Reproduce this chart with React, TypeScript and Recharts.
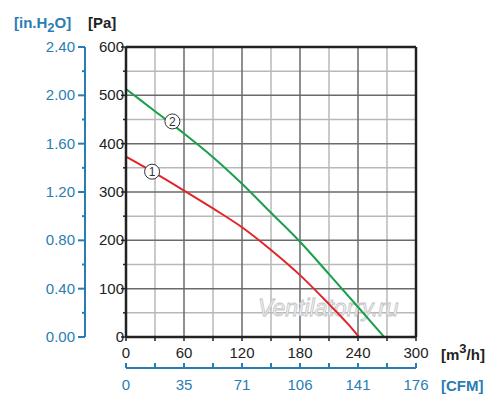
import React from "react"
import {
  LineChart,
  Line,
  XAxis,
  YAxis,
  CartesianGrid,
  ReferenceDot,
  ReferenceLine,
} from "recharts"

// kurva 1 (merah) dan 2 (hijau): debit [m3/h] -> tekanan [Pa]
const debitMerah = [0, 30, 60, 90, 120, 150, 180, 210, 230, 241]
const tekananMerah = [373, 339, 303, 266, 227, 180, 128, 68, 26, 0]
const debitHijau = [0, 30, 60, 90, 120, 150, 180, 210, 240, 267]
const tekananHijau = [513, 467, 421, 372, 317, 257, 197, 130, 62, 0]

const tickDebit = [0, 30, 60, 90, 120, 150, 180, 210, 240, 270, 300]
const labelDebit = [0, 60, 120, 180, 240, 300]
const labelCfm = ["0", "35", "71", "106", "141", "176"]
const tickPa = [0, 50, 100, 150, 200, 250, 300, 350, 400, 450, 500, 550, 600]
const tickInH2O = [0, 0.2, 0.4, 0.6, 0.8, 1.0, 1.2, 1.4, 1.6, 1.8, 2.0, 2.2, 2.4]

const BIRU = "#2a7db3"
const HITAM = "#222"
const FONT = "'Liberation Sans', Arial, sans-serif"

// id sumbu: yang urut abjad pertama diletakkan paling dekat ke plot
const X_DEBIT = "a_debit"
const X_CFM = "b_cfm"
const Y_PA = "a_pa"
const Y_IN = "b_in"

const dataMerah = debitMerah.map((d, i) => ({ debit: d, pa: tekananMerah[i] }))
const dataHijau = debitHijau.map((d, i) => ({ debit: d, pa: tekananHijau[i] }))

function TickPa(props: any) {
  const { x, y, payload } = props
  const v = payload.value as number
  const mayor = v % 100 === 0
  return (
    <g>
      <line x1={x - (mayor ? 5 : 3)} x2={x} y1={y} y2={y} stroke={HITAM} strokeWidth={1.5} />
      {mayor && (
        <text x={x - 2} y={y} dy={5} textAnchor="end" fontSize={15} fill={HITAM} fontFamily={FONT}>
          {v}
        </text>
      )}
    </g>
  )
}

function TickInH2O(props: any) {
  const { x, y, payload, index } = props
  const mayor = index % 2 === 0
  return (
    <g>
      <line x1={x - (mayor ? 7 : 3)} x2={x} y1={y} y2={y} stroke={BIRU} strokeWidth={2} />
      {mayor && (
        <text x={x - 10} y={y} dy={5} textAnchor="end" fontSize={15} fill={BIRU} fontFamily={FONT}>
          {(payload.value as number).toFixed(2)}
        </text>
      )}
    </g>
  )
}

function TickDebit(props: any) {
  const { x, y, payload } = props
  const v = payload.value as number
  return (
    <g>
      <line x1={x} x2={x} y1={y} y2={y + 4} stroke={HITAM} strokeWidth={1.5} />
      {labelDebit.includes(v) && (
        <text x={x} y={y + 21} textAnchor="middle" fontSize={15} fill={HITAM} fontFamily={FONT}>
          {v}
        </text>
      )}
    </g>
  )
}

function TickCfm(props: any) {
  const { x, y, payload } = props
  const v = payload.value as number
  const idx = labelDebit.indexOf(v)
  return (
    <g>
      <line x1={x} x2={x} y1={y} y2={y - 5} stroke={BIRU} strokeWidth={2} />
      {idx >= 0 && (
        <text x={x} y={y + 22} textAnchor="middle" fontSize={15} fill={BIRU} fontFamily={FONT}>
          {labelCfm[idx]}
        </text>
      )}
    </g>
  )
}

function Lingkaran(label: string) {
  return (props: any) => {
    const { cx, cy } = props
    return (
      <g>
        <circle cx={cx} cy={cy} r={7.5} fill="#fff" stroke="#333" strokeWidth={1} />
        <text x={cx} y={cy} dy={4.5} textAnchor="middle" fontSize={12} fill="#333" fontFamily={FONT}>
          {label}
        </text>
      </g>
    )
  }
}

export default function App() {
  return (
    <div style={{ position: "absolute", left: 0, top: 0, width: 500, height: 413, background: "#fff" }}>
      <LineChart
        width={500}
        height={413}
        data={dataHijau}
        margin={{ top: 47, right: 84, left: 0, bottom: 0 }}
        style={{ fontFamily: FONT }}
      >
        <CartesianGrid
          xAxisId={X_DEBIT}
          yAxisId={Y_PA}
          verticalValues={[30, 90, 150, 210, 270]}
          horizontalValues={[50, 150, 250, 350, 450, 550]}
          stroke="#b8b8b8"
          strokeWidth={1.5}
        />
        <CartesianGrid
          xAxisId={X_DEBIT}
          yAxisId={Y_PA}
          verticalValues={[60, 120, 180, 240]}
          horizontalValues={[100, 200, 300, 400, 500]}
          stroke="#6a6a6a"
          strokeWidth={1.5}
        />
        <XAxis
          xAxisId={X_DEBIT}
          dataKey="debit"
          type="number"
          domain={[0, 300]}
          ticks={tickDebit}
          interval={0}
          height={31}
          tickSize={0}
          tickMargin={0}
          tickLine={false}
          axisLine={{ stroke: HITAM, strokeWidth: 2.5 }}
          tick={<TickDebit />}
        />
        <XAxis
          xAxisId={X_CFM}
          dataKey="debit"
          type="number"
          domain={[0, 300]}
          ticks={tickDebit}
          interval={0}
          height={45}
          tickSize={0}
          tickMargin={0}
          tickLine={false}
          axisLine={{ stroke: BIRU, strokeWidth: 2 }}
          tick={<TickCfm />}
        />
        <YAxis
          yAxisId={Y_PA}
          type="number"
          domain={[0, 600]}
          ticks={tickPa}
          interval={0}
          width={41}
          tickSize={0}
          tickMargin={0}
          tickLine={false}
          axisLine={{ stroke: HITAM, strokeWidth: 2.5 }}
          tick={<TickPa />}
        />
        <YAxis
          yAxisId={Y_IN}
          dataKey="pa"
          type="number"
          domain={[0, 2.4]}
          allowDataOverflow
          ticks={tickInH2O}
          interval={0}
          width={85}
          tickSize={0}
          tickMargin={0}
          tickLine={false}
          axisLine={{ stroke: BIRU, strokeWidth: 2 }}
          tick={<TickInH2O />}
        />
        <ReferenceLine xAxisId={X_DEBIT} yAxisId={Y_PA} y={600} stroke={HITAM} strokeWidth={2.5} />
        <ReferenceLine xAxisId={X_DEBIT} yAxisId={Y_PA} x={300} stroke={HITAM} strokeWidth={2.5} />
        <Line
          xAxisId={X_DEBIT}
          yAxisId={Y_PA}
          data={dataMerah}
          dataKey="pa"
          type="monotone"
          stroke="#e0262b"
          strokeWidth={2}
          dot={false}
          isAnimationActive={false}
        />
        <Line
          xAxisId={X_DEBIT}
          yAxisId={Y_PA}
          data={dataHijau}
          dataKey="pa"
          type="monotone"
          stroke="#1aa04a"
          strokeWidth={2}
          dot={false}
          isAnimationActive={false}
        />
        <ReferenceDot xAxisId={X_DEBIT} yAxisId={Y_PA} x={27} y={342} shape={Lingkaran("1")} />
        <ReferenceDot xAxisId={X_DEBIT} yAxisId={Y_PA} x={48} y={446} shape={Lingkaran("2")} />
        <text x={14} y={28} fontSize={15} fontWeight="bold" fill={BIRU} fontFamily={FONT}>
          [in.H<tspan fontSize={13} dy={4}>2</tspan>
          <tspan dy={-4}>O]</tspan>
        </text>
        <text x={88} y={28} fontSize={15} fontWeight="bold" fill={HITAM} fontFamily={FONT}>
          [Pa]
        </text>
        <text x={441} y={360} fontSize={15} fontWeight="bold" fill={HITAM} fontFamily={FONT}>
          [m<tspan fontSize={13} dy={-7}>3</tspan>
          <tspan dy={7}>/h]</tspan>
        </text>
        <text x={441} y={391} fontSize={15} fontWeight="bold" fill={BIRU} fontFamily={FONT}>
          [CFM]
        </text>
        <text
          x={258}
          y={316}
          fontSize={23}
          fontStyle="italic"
          fill="#f2f2f2"
          stroke="#c4c4c4"
          strokeWidth={0.8}
          fontFamily={FONT}
        >
          Ventilatorry.ru
        </text>
      </LineChart>
    </div>
  )
}
